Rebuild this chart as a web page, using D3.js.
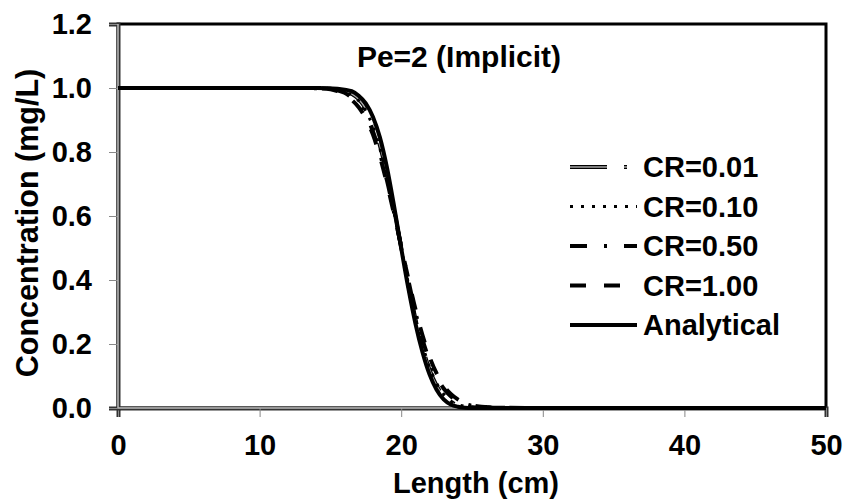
<!DOCTYPE html>
<html>
<head>
<meta charset="utf-8">
<script src="https://cdn.jsdelivr.net/npm/d3@7"></script>
<style>
  body { margin: 0; background: #fff; }
  text { font-family: "Liberation Sans", Arial, sans-serif; font-weight: bold; fill: #000; }
</style>
</head>
<body>
<div id="chart"></div>
<script>
// Length grid (cm) shared by all series
const lengths = [0, 5, 10, 13, 14, 15, 15.5, 16, 16.5, 17, 17.5, 18, 18.5, 19, 19.5, 20,
  20.5, 21, 21.5, 22, 22.5, 23, 23.5, 24, 24.5, 25, 25.5, 26, 27, 30, 35, 40, 45, 50];

const cr001 = [1, 1, 1, 1, 1, 0.998, 0.996, 0.99, 0.982, 0.965, 0.935, 0.89, 0.82, 0.73, 0.62, 0.50,
  0.385, 0.28, 0.19, 0.12, 0.07, 0.038, 0.019, 0.009, 0.004, 0.002, 0.001, 0, 0, 0, 0, 0, 0, 0];
const cr010 = [1, 1, 1, 1, 1, 0.998, 0.995, 0.988, 0.978, 0.96, 0.928, 0.88, 0.81, 0.72, 0.61, 0.50,
  0.39, 0.285, 0.198, 0.128, 0.077, 0.043, 0.022, 0.011, 0.005, 0.002, 0.001, 0, 0, 0, 0, 0, 0, 0];
const cr050 = [1, 1, 1, 1, 0.999, 0.997, 0.993, 0.985, 0.97, 0.95, 0.915, 0.865, 0.795, 0.71, 0.61, 0.505,
  0.40, 0.30, 0.215, 0.148, 0.097, 0.061, 0.037, 0.022, 0.013, 0.007, 0.004, 0.002, 0.0005, 0, 0, 0, 0, 0];
const cr100 = [1, 1, 1, 1, 0.999, 0.996, 0.99, 0.98, 0.963, 0.94, 0.905, 0.855, 0.785, 0.70, 0.605, 0.505,
  0.405, 0.31, 0.228, 0.16, 0.108, 0.07, 0.044, 0.027, 0.016, 0.009, 0.005, 0.003, 0.001, 0, 0, 0, 0, 0];
const analytical = [1, 1, 1, 1, 1, 0.999, 0.998, 0.995, 0.99, 0.976, 0.952, 0.91, 0.845, 0.75, 0.63, 0.50,
  0.375, 0.265, 0.175, 0.105, 0.057, 0.027, 0.011, 0.004, 0.001, 0, 0, 0, 0, 0, 0, 0, 0, 0];

const seriesNames = ["CR=0.01", "CR=0.10", "CR=0.50", "CR=1.00", "Analytical"];
const xTicks = [0, 10, 20, 30, 40, 50];
const yTicks = [0, 0.2, 0.4, 0.6, 0.8, 1.0, 1.2];

const margin = { top: 24, right: 23, bottom: 96, left: 118 };
const width = 849 - margin.left - margin.right;
const height = 504 - margin.top - margin.bottom;

const svg = d3.select("#chart")
    .append("svg")
    .attr("width", 849)
    .attr("height", 504);

const g = svg.append("g")
    .attr("transform", "translate(" + margin.left + "," + margin.top + ")");

const x = d3.scaleLinear().domain([0, 50]).range([0, width]);
const y = d3.scaleLinear().domain([0, 1.2]).range([height, 0]);

// plot frame
g.append("rect")
    .attr("width", width)
    .attr("height", height)
    .attr("fill", "none")
    .attr("stroke", "#000")
    .attr("stroke-width", 3);

const line = d3.line()
    .x(d => x(d[0]))
    .y(d => y(d[1]))
    .curve(d3.curveMonotoneX);

// styles per series (under-stroke for the grey double line)
const styles = [
  { stroke: "#000", width: 4, dash: "37,17,3,16", inner: "#a6a6a6" },
  { stroke: "#000", width: 3, dash: "3,8" },
  { stroke: "#000", width: 4, dash: "17,17,3,17" },
  { stroke: "#000", width: 4, dash: "16,18" },
  { stroke: "#000", width: 4, dash: null }
];
const seriesValues = [cr001, cr010, cr050, cr100, analytical];

// axes (grey double look)
const xAxis = g.append("g")
    .attr("transform", "translate(0," + height + ")")
    .call(d3.axisBottom(x).tickValues(xTicks).tickSize(9).tickPadding(17).tickFormat(d3.format("d")));
const yAxis = g.append("g")
    .call(d3.axisLeft(y).tickValues(yTicks).tickSize(9).tickPadding(17).tickFormat(d3.format(".1f")));

[xAxis, yAxis].forEach(ax => {
  ax.select(".domain").attr("stroke", "#333").attr("stroke-width", 4);
  ax.selectAll(".tick line").attr("stroke", "#888").attr("stroke-width", 1);
  ax.selectAll("text").style("font-size", "29px");
});
g.append("line").attr("x1", 0).attr("x2", width).attr("y1", height).attr("y2", height)
    .attr("stroke", "#bbb").attr("stroke-width", 1.5);
g.append("line").attr("x1", 0).attr("x2", 0).attr("y1", 0).attr("y2", height)
    .attr("stroke", "#bbb").attr("stroke-width", 1.5);

seriesValues.forEach((vals, i) => {
  const pts = lengths.map((l, j) => [l, vals[j]]);
  const s = styles[i];
  g.append("path")
      .datum(pts)
      .attr("fill", "none")
      .attr("stroke", s.stroke)
      .attr("stroke-width", s.width)
      .attr("stroke-dasharray", s.dash)
      .attr("d", line);
  if (s.inner) {
    g.append("path")
        .datum(pts)
        .attr("fill", "none")
        .attr("stroke", s.inner)
        .attr("stroke-width", 1.6)
        .attr("stroke-dasharray", s.dash)
        .attr("d", line);
  }
});

// title
svg.append("text")
    .attr("x", 459)
    .attr("y", 67)
    .attr("text-anchor", "middle")
    .style("font-size", "30px")
    .text("Pe=2 (Implicit)");

// legend
const legend = svg.append("g").attr("transform", "translate(570,167)");
seriesNames.forEach((name, i) => {
  const s = styles[i];
  const row = legend.append("g").attr("transform", "translate(0," + (i * 39.5) + ")");
  row.append("line")
      .attr("x1", 0).attr("x2", 67)
      .attr("stroke", s.stroke)
      .attr("stroke-width", s.width)
      .attr("stroke-dasharray", s.dash);
  if (s.inner) {
    row.append("line")
        .attr("x1", 0).attr("x2", 67)
        .attr("stroke", s.inner)
        .attr("stroke-width", 1.6)
        .attr("stroke-dasharray", s.dash);
  }
  row.append("text")
      .attr("x", 73)
      .attr("dy", "0.36em")
      .style("font-size", "29px")
      .text(name);
});

// axis titles
svg.append("text")
    .attr("x", 476)
    .attr("y", 493)
    .attr("text-anchor", "middle")
    .style("font-size", "29px")
    .text("Length (cm)");

svg.append("text")
    .attr("transform", "translate(38,223) rotate(-90)")
    .attr("text-anchor", "middle")
    .style("font-size", "30.5px")
    .text("Concentration (mg/L)");
</script>
</body>
</html>
